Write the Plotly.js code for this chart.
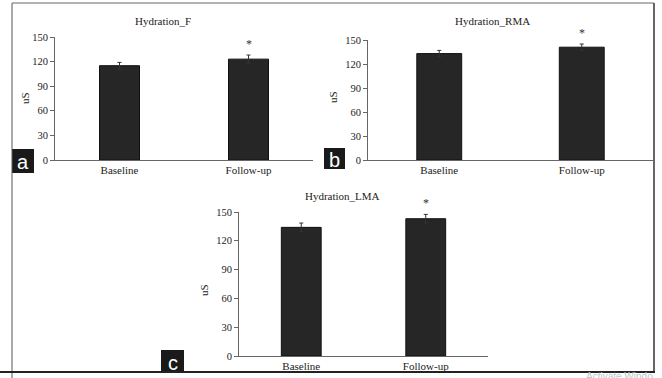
<!DOCTYPE html>
<html>
<head>
<meta charset="utf-8">
<script src="https://cdn.plot.ly/plotly-3.0.1.min.js"></script>
<style>
html,body{margin:0;padding:0;background:#fff;}
#chart{width:662px;height:378px;}
</style>
</head>
<body>
<div id="chart"></div>
<script>
// ---- data ----
const categories = ['Baseline', 'Follow-up'];
const hydrationF = [115, 123];
const hydrationF_err = [4, 5];
const hydrationRMA = [133, 141];
const hydrationRMA_err = [4, 4];
const hydrationLMA = [134, 143];
const hydrationLMA_err = [4.5, 4.5];
const panelTitles = ['Hydration_F', 'Hydration_RMA', 'Hydration_LMA'];
const panelLetters = ['a', 'b', 'c'];
const yTickVals = [0, 30, 60, 90, 120, 150];
const yLabel = 'uS';
const sigMark = '*';
const watermark = 'Activate Windo';

// ---- geometry helpers (pixel -> paper) ----
const W = 662, H = 378;
const px = v => v / W;
const py = v => 1 - v / H;

const serif = 'Liberation Serif, Times New Roman, serif';
const sans = 'Liberation Sans, Arial, sans-serif';

function barTrace(vals, errs, xa, ya, w) {
  return {
    type: 'bar', x: categories, y: vals, xaxis: xa, yaxis: ya,
    width: w,
    marker: {color: '#262626', line: {color: '#111', width: 1}},
    error_y: {type: 'data', array: errs, visible: true, color: '#333', thickness: 1, width: 2},
    hoverinfo: 'y', showlegend: false
  };
}

const allSeries = [[hydrationF, hydrationF_err], [hydrationRMA, hydrationRMA_err], [hydrationLMA, hydrationLMA_err]];
const axPairs = [['x', 'y'], ['x2', 'y2'], ['x3', 'y3']];
const barWidths = [0.31, 0.315, 0.32];

const data = [];
allSeries.forEach((s, i) => data.push(barTrace(s[0], s[1], axPairs[i][0], axPairs[i][1], barWidths[i])));

function xAxis(x0, x1, anchor) {
  return {
    domain: [px(x0), px(x1)], anchor: anchor, type: 'category', range: [-0.5, 1.5],
    showline: true, linecolor: '#666', linewidth: 1, ticks: '', showgrid: false, zeroline: false,
    tickfont: {family: serif, size: 11, color: '#222'}, fixedrange: true
  };
}
function yAxis(y0, y1, anchor) {
  return {
    domain: [py(y1), py(y0)], anchor: anchor, range: [0, 150], tickvals: yTickVals,
    showline: true, linecolor: '#666', linewidth: 1, ticks: 'outside', ticklen: 4, tickcolor: '#666',
    showgrid: false, zeroline: false,
    tickfont: {family: serif, size: 10.5, color: '#222'}, fixedrange: true
  };
}

const annotations = [];
// significance marks: anchored at the top of the follow-up error bar, lifted a few pixels
allSeries.forEach((s, i) => annotations.push({
  text: sigMark, xref: axPairs[i][0], yref: axPairs[i][1], x: categories[1],
  y: s[0][1] + s[1][1], yshift: 11, xanchor: 'center', yanchor: 'middle', showarrow: false,
  font: {family: serif, size: 12, color: '#333'}
}));
// panel titles
const titlePos = [[163, 21], [492, 21], [342, 196]];
titlePos.forEach((p, i) => annotations.push({
  text: panelTitles[i], xref: 'paper', yref: 'paper', x: px(p[0]), y: py(p[1]),
  xanchor: 'center', yanchor: 'middle', showarrow: false, font: {family: serif, size: 11, color: '#222'}
}));
// y labels
const yLabPos = [[25, 98], [333, 97], [204, 290]];
yLabPos.forEach(p => annotations.push({
  text: yLabel, xref: 'paper', yref: 'paper', x: px(p[0]), y: py(p[1]), textangle: -90,
  xanchor: 'center', yanchor: 'middle', showarrow: false, font: {family: serif, size: 11, color: '#222'}
}));
// letter boxes
const boxes = [[12, 149, 34, 173], [324, 148, 345, 169], [161, 350, 184, 373]];
const shapes = [];
boxes.forEach((b, i) => {
  shapes.push({type: 'rect', xref: 'paper', yref: 'paper', x0: px(b[0]), x1: px(b[2]), y0: py(b[3]), y1: py(b[1]),
    fillcolor: '#1a1a1a', line: {width: 0}, layer: 'above'});
  annotations.push({text: panelLetters[i], xref: 'paper', yref: 'paper', x: px((b[0] + b[2]) / 2), y: py((b[1] + b[3]) / 2 + 1),
    xanchor: 'center', yanchor: 'middle', showarrow: false, font: {family: sans, size: 20, color: '#fff'}});
});
// outer border
shapes.push({type: 'line', xref: 'paper', yref: 'paper', x0: px(12), x1: px(12), y0: py(3), y1: py(378), line: {color: '#555', width: 1}});
shapes.push({type: 'line', xref: 'paper', yref: 'paper', x0: px(12), x1: px(654), y0: py(3), y1: py(3), line: {color: '#666', width: 1}});
shapes.push({type: 'line', xref: 'paper', yref: 'paper', x0: px(654), x1: px(654), y0: py(3), y1: py(372), line: {color: '#666', width: 2}});
// watermark (partly hidden under the bottom rule, as in the reference)
annotations.push({text: watermark, xref: 'paper', yref: 'paper', x: px(584), y: py(376), xanchor: 'left', yanchor: 'middle',
  showarrow: false, font: {family: sans, size: 10, color: '#c4c4c4'}});
shapes.push({type: 'line', xref: 'paper', yref: 'paper', x0: px(0), x1: px(655), y0: py(372), y1: py(372), line: {color: '#222', width: 2}, layer: 'above'});

const layout = {
  width: W, height: H,
  margin: {l: 0, r: 0, t: 0, b: 0},
  paper_bgcolor: '#fff', plot_bgcolor: 'rgba(0,0,0,0)',
  bargap: 0.5,
  xaxis: xAxis(55, 313, 'y'),
  yaxis: yAxis(37, 160, 'x'),
  xaxis2: xAxis(368, 653, 'y2'),
  yaxis2: yAxis(40, 160, 'x2'),
  xaxis3: xAxis(239, 488, 'y3'),
  yaxis3: yAxis(212, 356, 'x3'),
  annotations: annotations,
  shapes: shapes,
  font: {family: serif, color: '#222'}
};

Plotly.newPlot('chart', data, layout, {displayModeBar: false, staticPlot: true});
</script>
</body>
</html>
